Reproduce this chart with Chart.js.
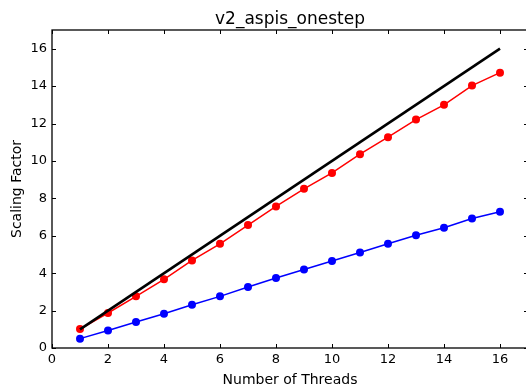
<!DOCTYPE html>
<html>
<head>
<meta charset="utf-8">
<script src="https://cdn.jsdelivr.net/npm/chart.js@4"></script>
<style>
    html, body { margin: 0; padding: 0; background: #fff; overflow: hidden; }
    #myChart { display: block; }
</style>
</head>
<body>
<canvas id="myChart" width="532" height="388"></canvas>
<script>
const threads = [1, 2, 3, 4, 5, 6, 7, 8, 9, 10, 11, 12, 13, 14, 15, 16];
const idealSpeedup = [1, 16];
const idealThreads = [1, 16];
const redScaling = [1.01, 1.87, 2.76, 3.67, 4.68, 5.57, 6.57, 7.57, 8.51, 9.36, 10.36, 11.27, 12.21, 13.0, 14.03, 14.72];
const blueScaling = [0.50, 0.94, 1.39, 1.83, 2.31, 2.76, 3.26, 3.74, 4.20, 4.65, 5.11, 5.57, 6.03, 6.43, 6.92, 7.28];
const tickValues = [0, 2, 4, 6, 8, 10, 12, 14, 16];

function toPoints(xs, ys) {
    return xs.map((x, i) => ({ x: x, y: ys[i] }));
}

function keepEvenTicks(scale) {
    scale.ticks = scale.ticks.filter(t => tickValues.includes(t.value));
}

// matplotlib-style frame with inward ticks on all four sides
const frameTicks = {
    id: 'frameTicks',
    afterDatasetsDraw(chart) {
        const ctx = chart.ctx;
        const area = chart.chartArea;
        const xs = chart.scales.x;
        const ys = chart.scales.y;
        ctx.save();
        ctx.strokeStyle = '#000';
        ctx.lineWidth = 1;
        ctx.beginPath();
        tickValues.forEach(v => {
            const px = Math.round(xs.getPixelForValue(v)) + 0.5;
            ctx.moveTo(px, area.bottom);
            ctx.lineTo(px, area.bottom - 4);
            ctx.moveTo(px, area.top);
            ctx.lineTo(px, area.top + 4);
            const py = Math.round(ys.getPixelForValue(v)) + 0.5;
            ctx.moveTo(area.left, py);
            ctx.lineTo(area.left + 4, py);
            ctx.moveTo(area.right, py);
            ctx.lineTo(area.right - 4, py);
        });
        ctx.stroke();
        ctx.lineWidth = 1.3;
        ctx.strokeRect(area.left, area.top, area.right - area.left, area.bottom - area.top);
        ctx.restore();
    }
};

function renderChart() {
    const ctx = document.getElementById('myChart');

    new Chart(ctx, {
        type: 'line',
        data: {
            datasets: [{
                label: 'ideal',
                data: toPoints(idealThreads, idealSpeedup),
                borderColor: '#000000',
                borderWidth: 2.6,
                pointRadius: 0,
                fill: false,
                order: 0
            }, {
                label: 'red',
                data: toPoints(threads, redScaling),
                borderColor: '#ff0000',
                backgroundColor: '#ff0000',
                borderWidth: 1.5,
                pointRadius: 4,
                pointBorderWidth: 0,
                fill: false,
                order: 1
            }, {
                label: 'blue',
                data: toPoints(threads, blueScaling),
                borderColor: '#0000ff',
                backgroundColor: '#0000ff',
                borderWidth: 1.5,
                pointRadius: 4,
                pointBorderWidth: 0,
                fill: false,
                order: 2
            }]
        },
        options: {
            responsive: false,
            animation: false,
            layout: {
                padding: { left: 0, right: 3, top: 0, bottom: 0 }
            },
            plugins: {
                legend: { display: false },
                tooltip: { enabled: false }
            },
            scales: {
                x: {
                    type: 'linear',
                    position: 'bottom',
                    min: 0,
                    max: 17,
                    afterBuildTicks: keepEvenTicks,
                    afterFit: scale => { scale.height = 40; },
                    grid: { display: false, drawTicks: false },
                    border: { display: false },
                    ticks: {
                        stepSize: 2,
                        color: '#000',
                        padding: 4,
                        maxRotation: 0,
                        font: { family: 'DejaVu Sans', size: 13 }
                    },
                    title: {
                        display: true,
                        text: 'Number of Threads',
                        color: '#000',
                        padding: { top: 0, bottom: -1 },
                        font: { family: 'DejaVu Sans', size: 14 }
                    }
                },
                x2: {
                    type: 'linear',
                    position: 'top',
                    min: 0,
                    max: 17,
                    afterFit: scale => { scale.height = 30; },
                    grid: { display: false, drawTicks: false },
                    border: { display: false },
                    ticks: { display: false },
                    title: {
                        display: true,
                        text: 'v2_aspis_onestep',
                        color: '#000',
                        padding: { top: 9, bottom: 0 },
                        font: { family: 'DejaVu Sans', size: 17 }
                    }
                },
                y: {
                    min: 0,
                    max: 17,
                    afterBuildTicks: keepEvenTicks,
                    afterFit: scale => { scale.width = 52; },
                    grid: { display: false, drawTicks: false },
                    border: { display: false },
                    ticks: {
                        stepSize: 2,
                        color: '#000',
                        padding: 5,
                        font: { family: 'DejaVu Sans', size: 13 }
                    },
                    title: {
                        display: true,
                        text: 'Scaling Factor',
                        color: '#000',
                        padding: { top: 9, bottom: 0 },
                        font: { family: 'DejaVu Sans', size: 14 }
                    }
                }
            }
        },
        plugins: [frameTicks]
    });
}

renderChart();
</script>
</body>
</html>
